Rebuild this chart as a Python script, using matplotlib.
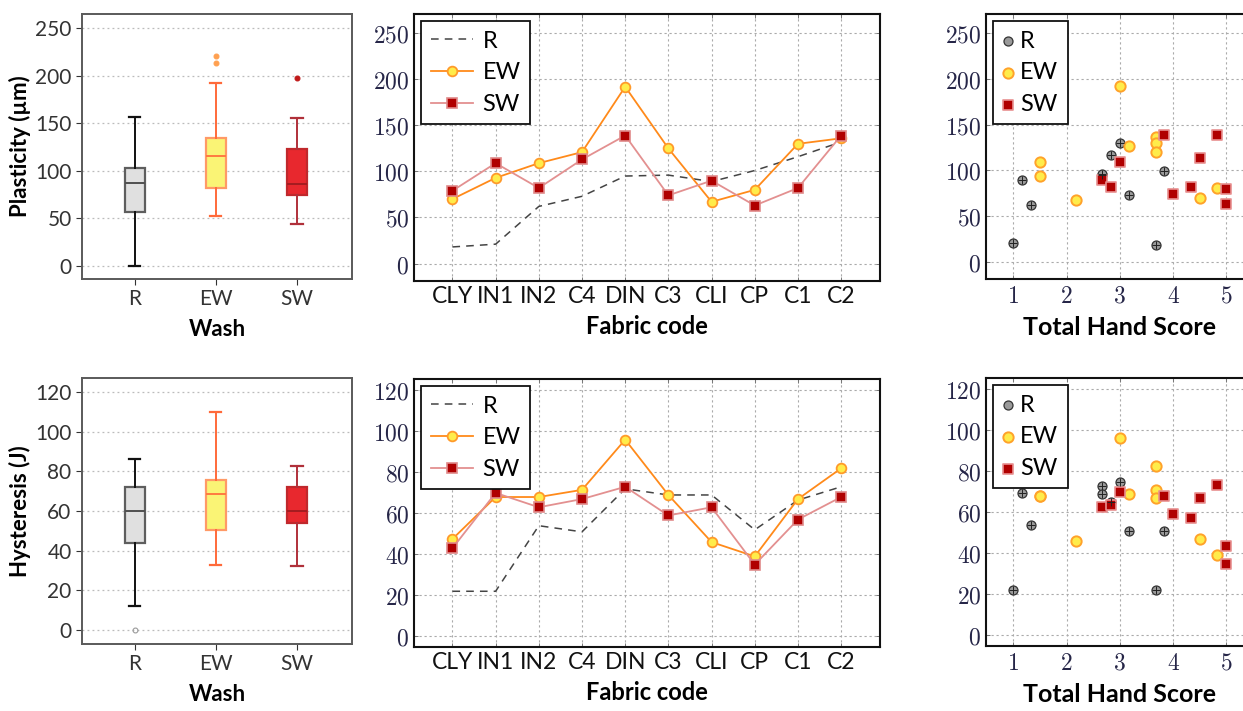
import matplotlib; matplotlib.use("Agg")
import matplotlib.pyplot as plt
from matplotlib.ticker import FuncFormatter

plt.rcParams["mathtext.fontset"]="cm"

# ---- data ----
WASH=["R","EW","SW"]
FABRIC=["CLY","IN1","IN2","C4","DIN","C3","CLI","CP","C1","C2"]

# box stats (whislo, q1, med, q3, whishi)
PL_BOX={"R":[0,57,87,103,157],"EW":[52,81.5,115,134,192],"SW":[44,74.5,86,123,155]}
PL_FLY={"R":[],"EW":[213,221],"SW":[198]}
HY_BOX={"R":[12,44,60,72,86.4],"EW":[33,50.5,68.7,75.8,110],"SW":[32.5,54,60,72,82.5]}
HY_FLY={"R":[0],"EW":[],"SW":[]}

PL_R=[18,21,62,73,95,96,89,101,116,132]
PL_EW=[70,93,109,121,192,125,67,80,130,136]
PL_SW=[79,109,82,113,139,74,90,63,82,139]
HY_R=[22,22,54,51,72,69,69,52,66.5,73]
HY_EW=[47.5,68,68,71.5,96,69,46,39,67,82]
HY_SW=[43,70,63,67,73,59,63,35,57,68]

# hand score scatter
PL_HS_R=[1.0,1.17,1.33,2.67,2.67,2.83,3.0,3.17,3.67,3.83]
PL_SC_R=[20,89,62,95,96,117,130,73,18,99]
PL_HS_EW=[1.5,1.5,2.17,3.0,3.17,3.67,3.67,3.67,4.5,4.83]
PL_SC_EW=[109,94,67,192,126,136,130,120,70,81]
PL_HS_SW=[2.67,2.83,3.0,3.83,4.0,4.33,4.5,4.83,5.0,5.0]
PL_SC_SW=[89,82,109,139,74,82,113,139,79,63]
HY_HS_R=[1.0,1.17,1.33,2.67,2.67,2.83,3.0,3.17,3.67,3.83]
HY_SC_R=[22,69.5,54,73,69,65,74.5,51,22,51]
HY_HS_EW=[1.5,1.5,2.17,3.0,3.17,3.67,3.67,3.67,4.5,4.83]
HY_SC_EW=[68,68,46,96,69,82.5,71,67,47,39]
HY_HS_SW=[2.67,2.83,3.0,3.83,4.0,4.33,4.5,4.83,5.0,5.0]
HY_SC_SW=[62.7,63.4,70,68,59,57,67,73.5,43.5,35]

W,H=1243,711
fig=plt.figure(figsize=(W/100,H/100),dpi=100)
def ax_at(l,t,r,b): return fig.add_axes([l/W,1-b/H,(r-l)/W,(b-t)/H])

BOXC={"R":dict(face="#e0e0e0",edge="#5e5e5e",med="#505050",wh="#111111",fl="#9a9a9a"),
      "EW":dict(face="#faf475",edge="#ff9a66",med="#ff7a40",wh="#ff6a3a",fl="#ffa050"),
      "SW":dict(face="#e8282e",edge="#c0282c",med="#a51c20",wh="#b0303a",fl="#c01818")}
SANS=["Lato","DejaVu Sans"]
NAVY="#262648"

def boxpanel(ax,box,fly,ylim,yt,ylab):
    for i,w in enumerate(WASH):
        lo,q1,md,q3,hi=box[w]; c=BOXC[w]
        st=[dict(whislo=lo,q1=q1,med=md,q3=q3,whishi=hi,fliers=fly[w])]
        ax.bxp(st,positions=[i+1],widths=0.25,patch_artist=True,
               boxprops=dict(facecolor=c["face"],edgecolor=c["edge"],lw=1.6),
               medianprops=dict(color=c["med"],lw=1.4),
               whiskerprops=dict(color=c["wh"],lw=1.4),capprops=dict(color=c["wh"],lw=1.6),
               flierprops=dict(marker="o",ms=3.5,mfc=c["fl"] if w!="R" else "none",mec=c["fl"],mew=0.8),
               capwidths=0.14)
    ax.set_xlim(0.35,3.68); ax.set_ylim(*ylim)
    ax.set_yticks(yt); ax.set_xticks([1,2,3]); ax.set_xticklabels(WASH)
    ax.yaxis.grid(True,ls=(0,(1.5,2.5)),color="#bbbbbb",lw=0.9); ax.set_axisbelow(True)
    for s in ax.spines.values(): s.set_color("#5a5a5a"); s.set_linewidth(1.4)
    ax.tick_params(colors="#333333",labelsize=15,length=4,width=0.8)
    for t in ax.get_xticklabels()+ax.get_yticklabels(): t.set_family(SANS)
    ax.set_xlabel("Wash",fontsize=16,fontweight="bold",family=SANS,labelpad=7)
    ax.set_ylabel(ylab,fontsize=16,fontweight="bold",family=SANS,labelpad=3)

def style_cm(ax,ylim,yt):
    ax.set_ylim(*ylim); ax.set_yticks(yt)
    ax.yaxis.set_major_formatter(FuncFormatter(lambda v,p: f"${v:g}$"))
    ax.grid(True,ls=(0,(2,2.5)),color="#aaaaaa",lw=0.8); ax.set_axisbelow(True)
    for s in ax.spines.values(): s.set_color("#111111"); s.set_linewidth(1.5)
    ax.tick_params(direction="in",top=True,right=True,length=3,width=0.7,labelsize=17)
    ax.tick_params(axis="y",colors="#777777",labelcolor=NAVY)
    ax.tick_params(axis="x",colors="#777777",labelcolor="#111111")

def legend(ax,hl,tp):
    lg=ax.legend(loc="upper left",fancybox=False,framealpha=1,edgecolor="#111111",
                 prop=dict(family=SANS,size=17),handlelength=hl,borderaxespad=0.3,
                 labelspacing=0.45,handletextpad=tp,borderpad=0.4)
    lg.get_frame().set_linewidth(1.3)

def linepanel(ax,r,ew,sw,ylim,yt):
    x=range(len(FABRIC))
    ax.plot(x,r,color="#444444",lw=1.1,ls=(0,(5,4)),label="R")
    ax.plot(x,ew,color="#ff8a1a",lw=1.3,marker="o",ms=7,mfc="#ffec4a",mec="#ff9a2a",mew=1.3,label="EW")
    ax.plot(x,sw,color="#e39090",lw=1.3,marker="s",ms=7,mfc="#b00000",mec="#e08a8a",mew=1.2,label="SW")
    ax.set_xlim(-0.89,9.9); ax.set_xticks(list(x)); ax.set_xticklabels(FABRIC)
    style_cm(ax,ylim,yt)
    for t in ax.get_xticklabels(): t.set_family(SANS); t.set_fontsize(16.5)
    ax.set_xlabel("Fabric code",fontsize=17,fontweight="bold",family=SANS,labelpad=6)
    legend(ax,1.8,0.4)

def scatpanel(ax,hr,sr,he,se,hs,ss,ylim,yt):
    ax.scatter(hr,sr,s=42,marker="o",facecolor="#9a9a9a",edgecolor="#333333",lw=0.9,zorder=3,label="R")
    ax.scatter(hr,sr,s=30,marker="+",color="#222222",lw=0.7,zorder=4)
    ax.scatter(he,se,s=55,marker="o",facecolor="#ffec4a",edgecolor="#ffa22a",lw=1.4,zorder=3,label="EW")
    ax.scatter(hs,ss,s=62,marker="s",facecolor="#b00000",edgecolor="#e89090",lw=1.2,zorder=3,label="SW")
    ax.set_xlim(0.487,5.5); ax.set_xticks([1,2,3,4,5])
    ax.xaxis.set_major_formatter(FuncFormatter(lambda v,p: f"${v:g}$"))
    style_cm(ax,ylim,yt)
    ax.tick_params(axis="x",labelcolor=NAVY)
    ax.set_xlabel("Total Hand Score",fontsize=18,fontweight="bold",family=SANS,labelpad=6)
    legend(ax,0.5,0.25)

# ---- top row: plasticity ----
a=ax_at(82,14,352,279); boxpanel(a,PL_BOX,PL_FLY,(-14,265),[0,50,100,150,200,250],"Plasticity (µm)")
a=ax_at(414,14,880,281); linepanel(a,PL_R,PL_EW,PL_SW,(-19,271),[0,50,100,150,200,250])
a=ax_at(986,14,1253,279); scatpanel(a,PL_HS_R,PL_SC_R,PL_HS_EW,PL_SC_EW,PL_HS_SW,PL_SC_SW,(-19,271),[0,50,100,150,200,250])

# ---- bottom row: hysteresis ----
a=ax_at(82,378,352,644); boxpanel(a,HY_BOX,HY_FLY,(-7,127),[0,20,40,60,80,100,120],"Hysteresis (J)")
a=ax_at(414,379,880,647); linepanel(a,HY_R,HY_EW,HY_SW,(-5.2,125.6),[0,20,40,60,80,100,120])
a=ax_at(986,378,1253,646); scatpanel(a,HY_HS_R,HY_SC_R,HY_HS_EW,HY_SC_EW,HY_HS_SW,HY_SC_SW,(-5.2,125.4),[0,20,40,60,80,100,120])

fig.savefig("out.png",dpi=100)
